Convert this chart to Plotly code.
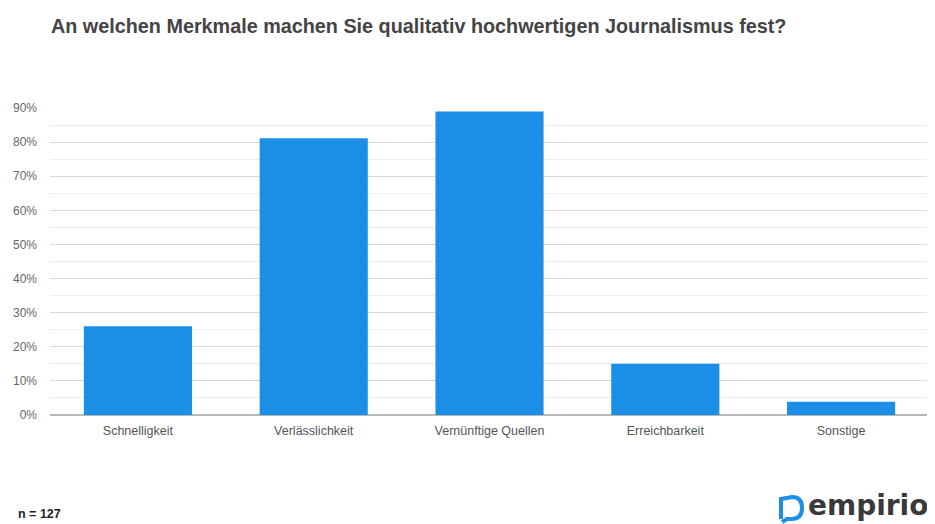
import plotly.graph_objects as go

categories = ["Schnelligkeit", "Verlässlichkeit", "Vernünftige Quellen", "Erreichbarkeit", "Sonstige"]
values = [26.0, 81.1, 89.0, 15.0, 3.9]
y_ticks = [0, 10, 20, 30, 40, 50, 60, 70, 80, 90]
title_text = "An welchen Merkmale machen Sie qualitativ hochwertigen Journalismus fest?"
note_text = "n = 127"
logo_text = "empirio"

BLUE = "#1b8ee6"
OFF = 8  # page body margin
W, H = 935 - OFF, 524 - OFF
ML, MR, MT, MB = 42, 6, 100, 109
pw, ph = W - ML - MR, H - MT - MB


def px_x(x):
    """reference pixel x -> paper fraction"""
    return (x - OFF - ML) / pw


def px_y(y):
    """reference pixel y -> paper fraction"""
    return (H - MB - (y - OFF)) / ph


fig = go.Figure(go.Bar(
    x=categories, y=values,
    marker=dict(color=BLUE, line=dict(width=0)),
    hoverinfo="skip",
))

fig.update_layout(
    width=W, height=H,
    margin=dict(l=ML, r=MR, t=MT, b=MB),
    paper_bgcolor="white", plot_bgcolor="white",
    bargap=0.385,
    showlegend=False,
    font=dict(family="Liberation Sans, Arial, sans-serif", color="#555"),
    title=dict(
        text="<b>" + title_text + "</b>",
        x=(51 - OFF) / W, xref="container", xanchor="left",
        y=1 - (26 - OFF) / H, yref="container", yanchor="middle",
        font=dict(size=19.8, color="#444", family="Liberation Sans, Arial, sans-serif"),
    ),
    xaxis=dict(
        showgrid=False, showline=False, zeroline=False,
        tickfont=dict(size=12.5, color="#555"),
        ticks="", ticklabelstandoff=6,
    ),
    yaxis=dict(
        range=[0, 90],
        tickvals=y_ticks, ticktext=[f"{v}%" for v in y_ticks],
        showgrid=True, gridcolor="#dadada", gridwidth=1,
        zeroline=True, zerolinecolor="#b8b8b8", zerolinewidth=1.5,
        showline=False,
        tickfont=dict(size=12, color="#666"),
        ticks="", ticklabelstandoff=12,
        minor=dict(dtick=5, tick0=0, showgrid=True, gridcolor="#eeeeee", gridwidth=1),
    ),
)

fig.add_annotation(
    text="<b>" + note_text + "</b>",
    xref="paper", yref="paper",
    x=px_x(16), y=px_y(514), xanchor="left", yanchor="middle",
    showarrow=False, font=dict(size=12.5, color="#222"),
)

fig.add_annotation(
    text="<b>" + logo_text + "</b>",
    xref="paper", yref="paper",
    x=px_x(929), y=px_y(523), xanchor="right", yanchor="bottom",
    borderpad=0,
    showarrow=False, font=dict(size=28, color="#3a3a3a", family="DejaVu Sans, sans-serif"),
)

# logo icon (speech-bubble "D")
pts = [("M", 781, 519), ("L", 781, 499), ("L", 792, 497),
       ("Q", 802, 497, 802, 508), ("Q", 802, 519, 791, 519),
       ("L", 787, 519), ("L", 782, 522)]
path = ""
for p in pts:
    if p[0] == "Q":
        path += f"Q{px_x(p[1])},{px_y(p[2])} {px_x(p[3])},{px_y(p[4])} "
    else:
        path += f"{p[0]}{px_x(p[1])},{px_y(p[2])} "
fig.add_shape(type="path", path=path, xref="paper", yref="paper",
              line=dict(color=BLUE, width=4), fillcolor="rgba(0,0,0,0)", layer="above")

fig.write_html("out.html")
